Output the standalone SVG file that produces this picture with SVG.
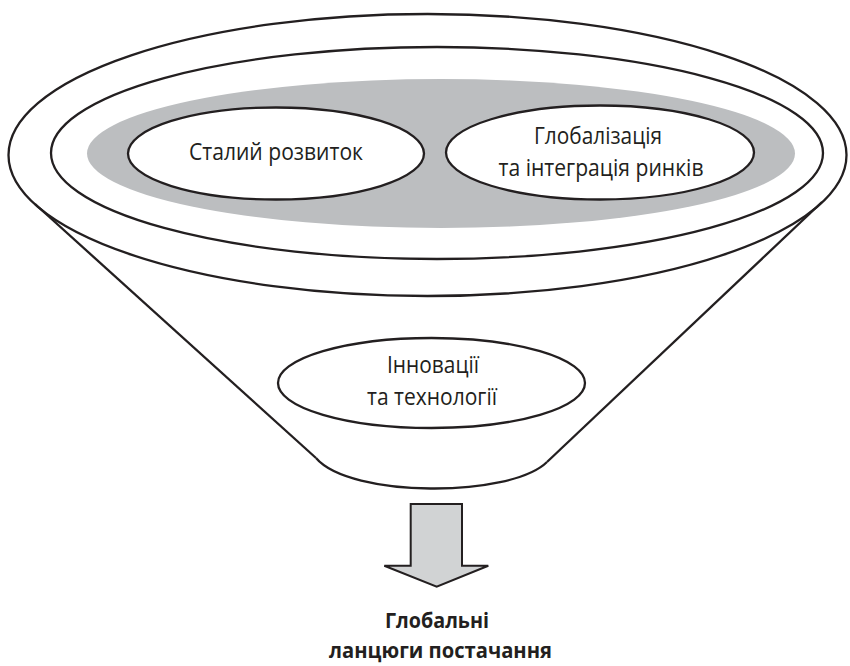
<svg xmlns="http://www.w3.org/2000/svg" width="850" height="666" viewBox="0 0 850 666">
  <style>
    .ln { fill: none; stroke: #231f20; stroke-width: 2.3; }
    .wh { fill: #ffffff; stroke: #231f20; stroke-width: 2.3; }
    .lbl { font-family: "Open Sans", "Noto Sans", "DejaVu Sans", sans-serif; font-size: 23px; fill: #231f20; text-anchor: middle; }
    .bold { font-weight: bold; font-size: 21.5px; }
  </style>
  <rect width="850" height="666" fill="#ffffff"/>
  <g id="funnel">
    <ellipse class="wh" cx="427.5" cy="155" rx="419" ry="141"/>
    <ellipse class="ln" cx="437" cy="153" rx="386" ry="106"/>
    <ellipse cx="441" cy="153.5" rx="354" ry="74.5" fill="#bcbec0"/>
    <path class="ln" d="M35,204 L316,458"/>
    <path class="ln" d="M822,202 L547,462"/>
    <path class="ln" d="M316,458 C350,498 510,498 547,462"/>
  </g>
  <g id="node-sustainable">
    <ellipse class="wh" cx="276" cy="153.5" rx="148" ry="46"/>
    <text class="lbl" x="276" y="160" textLength="174" lengthAdjust="spacingAndGlyphs">Сталий розвиток</text>
  </g>
  <g id="node-globalization">
    <ellipse class="wh" cx="600" cy="152.5" rx="154" ry="47"/>
    <text class="lbl" x="598" y="144" textLength="128" lengthAdjust="spacingAndGlyphs">Глобалізація</text>
    <text class="lbl" x="601" y="176" textLength="205" lengthAdjust="spacingAndGlyphs">та інтеграція ринків</text>
  </g>
  <g id="node-innovation">
    <ellipse class="wh" cx="431.5" cy="383" rx="153.5" ry="45"/>
    <text class="lbl" x="433" y="373" textLength="92" lengthAdjust="spacingAndGlyphs">Інновації</text>
    <text class="lbl" x="432" y="405" textLength="130" lengthAdjust="spacingAndGlyphs">та технології</text>
  </g>
  <g id="connectors">
    <polygon points="410.7,504 462,504 462,565.7 488.3,565.7 436.7,586.7 384.3,565.7 410.7,565.7" fill="#d1d3d4" stroke="#231f20" stroke-width="2" stroke-linejoin="miter"/>
  </g>
  <g id="node-result">
    <text class="lbl bold" x="437" y="628" textLength="104" lengthAdjust="spacingAndGlyphs">Глобальні</text>
    <text class="lbl bold" x="440.5" y="658" textLength="223" lengthAdjust="spacingAndGlyphs">ланцюги постачання</text>
  </g>
</svg>
